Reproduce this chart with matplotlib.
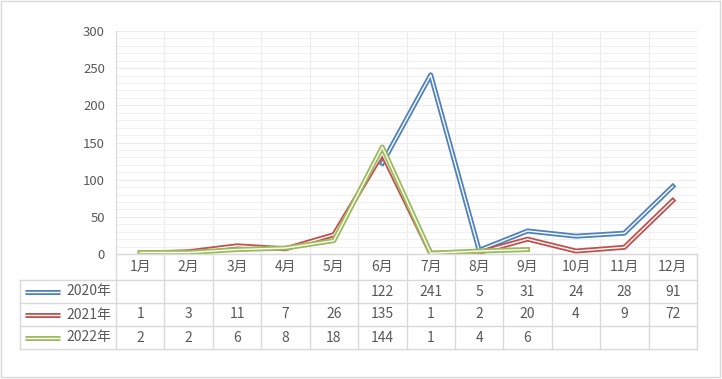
import matplotlib as mpl
mpl.use('Agg')
import matplotlib.pyplot as plt
from matplotlib.patches import Rectangle
import numpy as np

plt.rcParams['font.family'] = ['Noto Sans CJK SC', 'DejaVu Sans']

months = ['1月', '2月', '3月', '4月', '5月', '6月', '7月', '8月', '9月', '10月', '11月', '12月']
series_names = ['2020年', '2021年', '2022年']
v2020 = [None, None, None, None, None, 122, 241, 5, 31, 24, 28, 91]
v2021 = [1, 3, 11, 7, 26, 135, 1, 2, 20, 4, 9, 72]
v2022 = [2, 2, 6, 8, 18, 144, 1, 4, 6, None, None, None]
colors = ['#4f81bd', '#c0504d', '#9bbb59']
yticks = [0, 50, 100, 150, 200, 250, 300]

W, H = 722, 379
txt = '#595959'
grid_major = '#d9d9d9'
grid_minor = '#f0f0f0'

fig = plt.figure(figsize=(W / 100, H / 100), dpi=100)

# layout in pixels
left, right, top, bottom = 116, 697, 31, 254
ax = fig.add_axes([left / W, 1 - bottom / H, (right - left) / W, (bottom - top) / H])
n = len(months)
x = np.arange(n) + 0.5
ax.set_xlim(0, n)
ax.set_ylim(0, 300)

for name, vals, c in zip(series_names, [v2020, v2021, v2022], colors):
    y = np.array([np.nan if v is None else v for v in vals], dtype=float)
    ax.plot(x, y, color=c, lw=3.6, solid_joinstyle='round', zorder=3)
    ax.plot(x, y, color='white', lw=1.0, solid_joinstyle='round', zorder=3)

ax.set_yticks(yticks)
ax.set_yticks(np.arange(0, 301, 10), minor=True)
ax.set_xticks(np.arange(n + 1), minor=True)
ax.set_xticks([])
ax.grid(which='minor', axis='y', color=grid_minor, lw=0.8)
ax.grid(which='major', axis='y', color='#ececec', lw=0.8)
ax.grid(which='minor', axis='x', color='#ececec', lw=0.8)
ax.tick_params(axis='y', which='both', length=0, colors=txt, labelsize=9.5, pad=8)
ax.tick_params(axis='x', which='both', length=0)
for s in ['top', 'right']:
    ax.spines[s].set_visible(False)
ax.spines['left'].set_color(grid_major)
ax.spines['bottom'].set_color(grid_major)
ax.set_axisbelow(True)

# data table drawn in pixel space
tab = fig.add_axes([0, 0, 1, 1])
tab.set_xlim(0, W)
tab.set_ylim(H, 0)
tab.axis('off')
tab.patch.set_alpha(0)

cw = (right - left) / n
row_y = [254, 280, 303, 326, 349]
hdr_left = 20
lc = '#d9d9d9'
fs = 10

# horizontal lines
tab.plot([left, right], [row_y[0], row_y[0]], color=lc, lw=1)
for yy in row_y[1:]:
    tab.plot([hdr_left, right], [yy, yy], color=lc, lw=1)
# vertical lines
for i in range(n + 1):
    xx = left + i * cw
    tab.plot([xx, xx], [row_y[0], row_y[-1]], color=lc, lw=1)
tab.plot([hdr_left, hdr_left], [row_y[1], row_y[-1]], color=lc, lw=1)

# month labels
for i, m in enumerate(months):
    tab.text(left + (i + 0.5) * cw, (row_y[0] + row_y[1]) / 2, m,
             ha='center', va='center', fontsize=fs, color=txt)

# series rows
for r, (name, vals, c) in enumerate(zip(series_names, [v2020, v2021, v2022], colors)):
    yc = (row_y[r + 1] + row_y[r + 2]) / 2
    tab.plot([25, 60], [yc, yc], color=c, lw=3.6, solid_capstyle='butt')
    tab.plot([25, 60], [yc, yc], color='white', lw=1.0, solid_capstyle='butt')
    tab.text(66, yc, name, ha='left', va='center', fontsize=fs, color=txt)
    for i, v in enumerate(vals):
        if v is not None:
            tab.text(left + (i + 0.5) * cw, yc, str(v),
                     ha='center', va='center', fontsize=fs, color=txt)

# chart border
tab.add_patch(Rectangle((1, 1), W - 3, H - 3, fill=False, edgecolor='#d9d9d9', lw=1))

fig.savefig('out.png', dpi=100)
